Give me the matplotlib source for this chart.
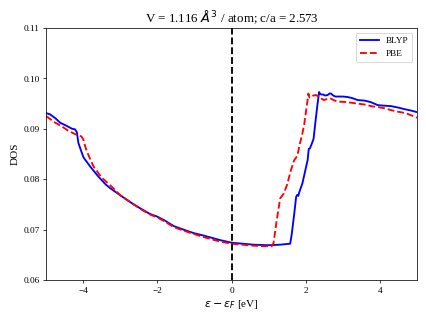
import numpy as np
import matplotlib
matplotlib.use('Agg')
import matplotlib.pyplot as plt

plt.rcParams['font.family'] = ['Liberation Serif', 'DejaVu Serif']

# energies relative to Fermi level [eV] and DOS values
blyp_e = [-5.0, -4.9, -4.75, -4.62, -4.45, -4.3, -4.22, -4.17, -4.13, -4.05, -3.99,
          -3.9, -3.81, -3.6, -3.4, -3.27, -3.0, -2.7, -2.46, -2.2, -2.01, -1.8,
          -1.56, -1.3, -1.02, -0.8, -0.6, -0.3, 0.0, 0.3, 0.6, 1.0, 1.3, 1.58,
          1.62, 1.69, 1.74, 1.77, 1.8, 1.82, 1.91, 1.98, 2.05, 2.08, 2.11, 2.16,
          2.21, 2.27, 2.32, 2.36, 2.38, 2.42, 2.47, 2.52, 2.59, 2.64, 2.68, 2.74,
          2.8, 2.86, 3.0, 3.13, 3.25, 3.4, 3.58, 3.75, 3.94, 4.1, 4.3, 4.5, 4.66,
          4.85, 5.0]
blyp_dos = [0.0931, 0.0929, 0.0921, 0.0912, 0.0906, 0.0900, 0.0899, 0.0893, 0.0872,
            0.0855, 0.0843, 0.0834, 0.0825, 0.0806, 0.0790, 0.0782, 0.0768, 0.0753,
            0.0742, 0.0731, 0.0726, 0.0718, 0.0707, 0.0700, 0.0693, 0.0689, 0.0685,
            0.0679, 0.0674, 0.0672, 0.0670, 0.0669, 0.0670, 0.0672, 0.0690, 0.0732,
            0.0765, 0.0769, 0.0767, 0.0773, 0.0792, 0.0815, 0.0838, 0.0860, 0.0861,
            0.0870, 0.0880, 0.0920, 0.0951, 0.0973, 0.0970, 0.0968, 0.0968, 0.0966,
            0.0967, 0.0970, 0.0970, 0.0966, 0.0964, 0.0964, 0.0964, 0.0963, 0.0961,
            0.0957, 0.0956, 0.0953, 0.0947, 0.0946, 0.0945, 0.0942, 0.0939, 0.0936,
            0.0933]

pbe_e = [-5.0, -4.9, -4.8, -4.6, -4.4, -4.26, -4.15, -4.05, -3.99, -3.95, -3.9, -3.8,
         -3.72, -3.5, -3.23, -3.0, -2.7, -2.46, -2.2, -2.0, -1.8, -1.56, -1.3, -1.0,
         -0.8, -0.6, -0.3, 0.0, 0.3, 0.6, 0.9, 1.08, 1.13, 1.22, 1.31, 1.41, 1.5,
         1.6, 1.69, 1.77, 1.84, 1.91, 1.96, 2.0, 2.05, 2.07, 2.1, 2.15, 2.2, 2.27,
         2.36, 2.42, 2.49, 2.57, 2.68, 2.75, 2.86, 3.1, 3.4, 3.6, 3.76, 4.12, 4.3,
         4.48, 4.7, 5.0]
pbe_dos = [0.0925, 0.0920, 0.0914, 0.0906, 0.0896, 0.0891, 0.0887, 0.0885, 0.0878,
           0.0866, 0.0855, 0.0838, 0.0825, 0.0803, 0.0785, 0.0768, 0.0753, 0.0741,
           0.0730, 0.0724, 0.0716, 0.0705, 0.0698, 0.0691, 0.0686, 0.0682, 0.0676,
           0.0672, 0.0670, 0.0668, 0.0667, 0.0667, 0.0673, 0.0720, 0.0762, 0.0772,
           0.0790, 0.0818, 0.0838, 0.0846, 0.0870, 0.0891, 0.0910, 0.0931, 0.0958,
           0.0970, 0.0962, 0.0963, 0.0966, 0.0967, 0.0964, 0.0960, 0.0957, 0.0959,
           0.0960, 0.0957, 0.0954, 0.0953, 0.0950, 0.0948, 0.0945, 0.0941, 0.0937,
           0.0934, 0.0931, 0.0922]

fig = plt.figure(figsize=(6.4, 4.8), dpi=66.7)
ax = fig.add_subplot(111)
fig.subplots_adjust(left=0.108, right=0.977, top=0.912, bottom=0.125)

ax.plot(blyp_e, blyp_dos, 'b-', lw=2, label='BLYP')
ax.plot(pbe_e, pbe_dos, 'r--', lw=2, label='PBE')
ax.axvline(0, color='k', ls='--', lw=2)

ax.set_xlim(-5, 5)
ax.set_ylim(0.06, 0.11)
ax.set_yticks(np.arange(0.06, 0.111, 0.01))
ax.set_xlabel(r'$\epsilon - \epsilon_F$ [eV]', fontsize=12)
ax.set_ylabel('DOS', fontsize=12)
ax.set_title(r'V = 1.116 $\AA^3$ / atom; c/a = 2.573', fontsize=14)
ax.legend(loc='upper right')

plt.savefig('out.png', dpi=66.7)
